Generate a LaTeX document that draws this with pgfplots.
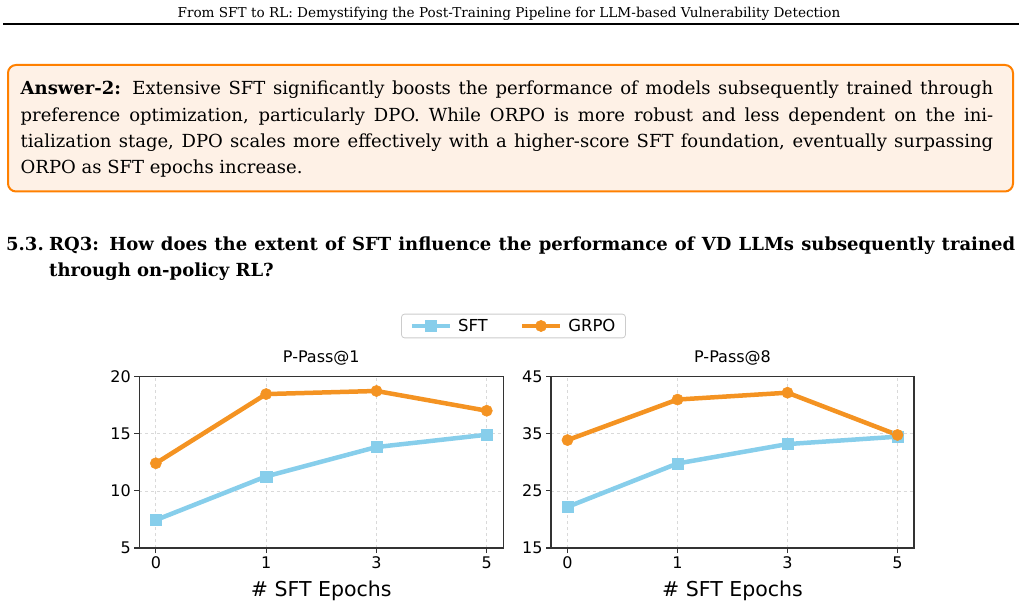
\documentclass[border=0pt]{standalone}
\usepackage{fontspec}
\setmainfont{DejaVu Sans}
\newfontfamily\bodyserif{DejaVu Serif}
\usepackage{pgfplots}
\pgfplotsset{compat=1.18}
\definecolor{sftblue}{RGB}{135,206,235}
\definecolor{grpoorange}{RGB}{244,147,34}
\definecolor{boxorange}{RGB}{255,128,0}
\definecolor{boxfill}{RGB}{254,241,230}
\definecolor{axgray}{RGB}{51,51,51}

\pgfplotsset{
  vdstyle/.style={
    scale only axis,
    height=171.3bp,
    xmin=-0.15, xmax=3.15,
    xtick={0,1,2,3}, xticklabels={0,1,3,5},
    grid=major,
    major grid style={dashed, draw=black!15, line width=0.7bp},
    axis line style={draw=axgray, line width=1.1bp},
    tick align=outside, tick pos=left,
    major tick length=5bp,
    every tick/.style={draw=axgray, line width=1.1bp},
    tick label style={font=\fontsize{16bp}{16bp}\selectfont, text=black},
    /pgf/number format/assume math mode=true,
    title style={font=\fontsize{16bp}{16bp}\selectfont, at={(0.5,1)}, anchor=base, yshift=8.4bp},
    xlabel style={font=\fontsize{20.5bp}{20.5bp}\selectfont, at={(axis description cs:0.5,0)}, anchor=base, yshift=-48.7bp},
    xlabel={\# SFT Epochs},
    legend image code/.code={
      \draw[#1, mark repeat=2, mark phase=2] plot coordinates {(0bp,0bp) (19bp,0bp) (38bp,0bp)};
    },
  },
  sftline/.style={draw=sftblue, line width=4.5bp, mark=square*, mark size=5.6bp, mark options={solid, fill=sftblue, draw=sftblue, line width=0.5bp}},
  grpoline/.style={draw=grpoorange, line width=4.5bp, mark=*, mark size=5.6bp, mark options={solid, fill=grpoorange, draw=grpoorange, line width=0.5bp}},
}

\begin{document}
\begin{tikzpicture}[x=1bp,y=1bp]
\path[use as bounding box] (0,0) rectangle (1022,-607);

% running header
\node[anchor=base, inner sep=0, font=\bodyserif\fontsize{13.6bp}{15bp}\selectfont] at (509,-17.3)
  {From SFT to RL: Demystifying the Post-Training Pipeline for LLM-based Vulnerability Detection};
\draw[line width=2bp] (3,-24.5) -- (1019,-24.5);

% answer box
\draw[draw=boxorange, fill=boxfill, line width=2bp, rounded corners=8bp] (8,-65) rectangle (1013,-191.5);
\begin{scope}[every node/.style={anchor=base west, inner sep=0, font=\bodyserif\fontsize{18bp}{21bp}\selectfont}]
\node at (20.5,-95) {\hbox to 972.5bp{\textbf{Answer-2:} Extensive SFT significantly boosts the performance of models subsequently trained through}};
\node at (20.5,-121.3) {\hbox to 972.5bp{preference optimization, particularly DPO. While ORPO is more robust and less dependent on the ini-}};
\node at (20.5,-147.6) {\hbox to 972.5bp{tialization stage, DPO scales more effectively with a higher-score SFT foundation, eventually surpassing}};
\node at (20.5,-174) {ORPO as SFT epochs increase.};
\end{scope}

% section heading
\begin{scope}[every node/.style={anchor=base west, inner sep=0, font=\bodyserif\bfseries\fontsize{18bp}{22bp}\selectfont}]
\node at (6,-251) {5.3.};
\node at (49,-251) {\hbox to 966bp{RQ3: How does the extent of SFT influence the performance of VD LLMs subsequently trained}};
\node at (49,-277) {through on-policy RL?};
\end{scope}

% left panel
\begin{axis}[vdstyle,
  at={(139.3bp,-548bp)}, anchor=south west,
  width=364bp,
  ymin=5, ymax=20, ytick={5,10,15,20},
  title={P-Pass@1},
  legend columns=2,
  legend style={at={(1.028,1.296)}, anchor=center, draw=black!20, line width=0.8bp, rounded corners=3bp,
    fill=white, font=\fontsize{16.5bp}{16.5bp}\selectfont, inner xsep=8bp, inner ysep=3bp,
    /tikz/every odd column/.append style={column sep=4bp},
    /tikz/every even column/.append style={column sep=30bp}},
]
\addplot[sftline] coordinates {(0,7.45) (1,11.27) (2,13.84) (3,14.92)};
\addlegendentry{SFT}
\addplot[grpoline] coordinates {(0,12.42) (1,18.48) (2,18.75) (3,17.02)};
\addlegendentry{GRPO}
\end{axis}

% right panel
\begin{axis}[vdstyle,
  at={(551bp,-548bp)}, anchor=south west,
  width=363bp,
  ymin=15, ymax=45, ytick={15,25,35,45},
  title={P-Pass@8},
]
\addplot[sftline] coordinates {(0,22.2) (1,29.8) (2,33.2) (3,34.5)};
\addplot[grpoline] coordinates {(0,33.9) (1,41.0) (2,42.2) (3,34.8)};
\end{axis}
\end{tikzpicture}
\end{document}
